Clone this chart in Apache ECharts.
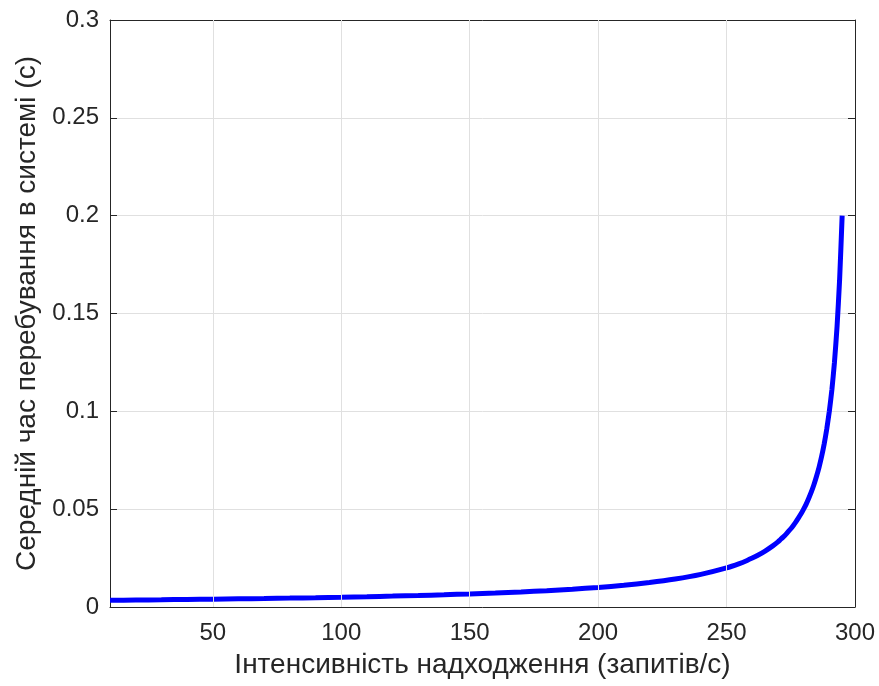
<!DOCTYPE html>
<html>
<head>
<meta charset="utf-8">
<script src="https://cdn.jsdelivr.net/npm/echarts@6/dist/echarts.min.js"></script>
<style>html,body{margin:0;padding:0;background:#fff}#c{width:879px;height:686px}</style>
</head>
<body>
<div id="c"></div>
<script>
// Arrival intensity (requests/s)
const lambdaValues = [10,20,30,40,50,60,70,80,90,100,110,120,130,140,150,160,170,180,190,200,210,220,230,240,250,255,258,260,262,265,268,270,271,272,273,274,275,276,277,278,279,280,281,282,283,284,285,286,287,288,289,290,291,292,293,294,295];
// Mean time in system (s)
const timeValues = [0.00345,0.00357,0.0037,0.00385,0.004,0.00417,0.00435,0.00455,0.00476,0.005,0.00526,0.00556,0.00588,0.00625,0.00667,0.00714,0.00769,0.00833,0.00909,0.01,0.0111,0.0125,0.0143,0.0167,0.02,0.0222,0.0238,0.025,0.0263,0.0286,0.03125,0.0333,0.0345,0.0357,0.037,0.0385,0.04,0.0417,0.0435,0.0455,0.0476,0.05,0.0526,0.0556,0.0588,0.0625,0.0667,0.0714,0.0769,0.0833,0.0909,0.1,0.111,0.125,0.143,0.167,0.2];
const xTicks = [50,100,150,200,250,300];
const xTitle = 'Інтенсивність надходження (запитів/с)';
const yTitle = 'Середній час перебування в системі (с)';

const FONT = 'Liberation Sans';
const TXT = '#262626';
const GRID = '#e0e0e0';

const chart = echarts.init(document.getElementById('c'), null, {renderer: 'canvas'});
const data = lambdaValues.map((x, i) => [x, timeValues[i]]);

const baseX = {
  type: 'value', min: 10, max: 300,
  axisLine: {show: true, onZero: false, lineStyle: {color: TXT, width: 1}},
  axisTick: {show: true, inside: true, length: 7, customValues: xTicks, lineStyle: {color: TXT}},
  splitLine: {show: false}
};
const baseY = {
  type: 'value', min: 0, max: 0.3, interval: 0.05,
  axisLine: {show: true, onZero: false, lineStyle: {color: TXT, width: 1}},
  axisTick: {show: true, inside: true, length: 7, lineStyle: {color: TXT}}
};

chart.setOption({
  animation: false,
  backgroundColor: '#fff',
  grid: {left: 110, right: 24, top: 20, bottom: 79, containLabel: false},
  xAxis: [
    Object.assign({}, baseX, {
      position: 'bottom',
      name: xTitle, nameLocation: 'middle', nameGap: 44,
      nameTextStyle: {fontFamily: FONT, fontSize: 28, color: TXT},
      axisLabel: {show: true, customValues: xTicks, fontFamily: FONT, fontSize: 24, color: TXT, margin: 14}
    }),
    Object.assign({}, baseX, {position: 'top', axisLabel: {show: false}})
  ],
  yAxis: [
    Object.assign({}, baseY, {
      position: 'left',
      name: yTitle, nameLocation: 'middle', nameGap: 68,
      nameTextStyle: {fontFamily: FONT, fontSize: 28, color: TXT},
      axisLabel: {show: true, fontFamily: FONT, fontSize: 24, color: TXT, margin: 11,
        formatter: v => String(Math.round(v * 100) / 100)},
      splitLine: {show: true, lineStyle: {color: GRID, width: 1}}
    }),
    Object.assign({}, baseY, {position: 'right', axisLabel: {show: false}, splitLine: {show: false}})
  ],
  series: [
    {
      type: 'line', data: [], xAxisIndex: 0, yAxisIndex: 0, z: 1, silent: true,
      markLine: {
        silent: true, symbol: ['none', 'none'], animation: false,
        label: {show: false},
        lineStyle: {color: GRID, width: 1, type: 'solid'},
        data: xTicks.filter(v => v < 300).map(v => ({xAxis: v}))
      }
    },
    {
      type: 'line', data: data, xAxisIndex: 0, yAxisIndex: 0, z: 3,
      showSymbol: false, symbol: 'none', smooth: 0.2,
      lineStyle: {color: '#0000ff', width: 5}
    }
  ]
});
</script>
</body>
</html>
